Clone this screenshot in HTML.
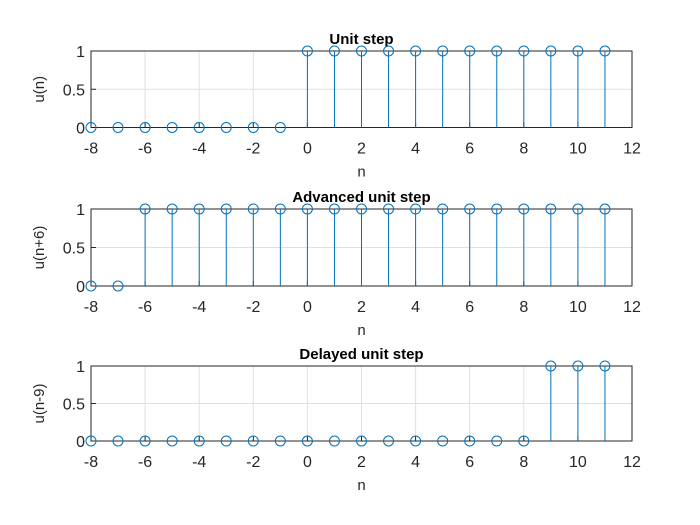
<!DOCTYPE html>
<html><head><meta charset="utf-8"><style>
body{margin:0;background:#fff;}
svg{display:block;font-family:"Liberation Sans",Arial,sans-serif;}
</style></head><body>
<svg id="fig" width="700" height="525"></svg>
<script>
const nValues=[-8,-7,-6,-5,-4,-3,-2,-1,0,1,2,3,4,5,6,7,8,9,10,11];
const unitStep=[0,0,0,0,0,0,0,0,1,1,1,1,1,1,1,1,1,1,1,1];
const advancedStep=[0,0,1,1,1,1,1,1,1,1,1,1,1,1,1,1,1,1,1,1];
const delayedStep=[0,0,0,0,0,0,0,0,0,0,0,0,0,0,0,0,0,1,1,1];
const xTicks=[-8,-6,-4,-2,0,2,4,6,8,10,12];
const yTicks=[0,0.5,1];
const yTickLabels=["0","0.5","1"];
const titles=["Unit step","Advanced unit step","Delayed unit step"];
const yLabels=["u(n)","u(n+6)","u(n-9)"];
const seriesList=[unitStep,advancedStep,delayedStep];
const NS="http://www.w3.org/2000/svg";
const svg=document.getElementById('fig');
const L=91,R=632,tops=[51,209,366],bots=[127.5,286,441];
function el(t,a,p){const e=document.createElementNS(NS,t);for(const k in a)e.setAttribute(k,a[k]);(p||svg).appendChild(e);return e;}
for(let s=0;s<3;s++){
  const T=tops[s],B=bots[s];
  const xs=v=>L+(v-(-8))/(12-(-8))*(R-L);
  const ys=v=>B-(v-0)/(1-0)*(B-T);
  const g=el('g',{});
  
  
  for(const t of xTicks){const l=el('line',{x1:xs(t),x2:xs(t),y1:T,y2:B,stroke:'#e0e0e0','stroke-width':1},g);}
  for(const t of yTicks){const l=el('line',{x1:L,x2:R,y1:ys(t),y2:ys(t),stroke:'#e0e0e0','stroke-width':1},g);}
  const box=el('rect',{x:L,y:T,width:R-L,height:B-T,fill:'none',stroke:'#262626','stroke-width':1},g);
  
  for(const t of xTicks){
    el('line',{x1:xs(t),x2:xs(t),y1:B,y2:B-5,stroke:'#262626'},g);
    const tx=el('text',{x:xs(t),y:B+26,'text-anchor':'middle','font-size':16,fill:'#262626'},g);tx.textContent=t;
    
  }
  yTicks.forEach((t,i)=>{
    el('line',{x1:L,x2:L+5,y1:ys(t),y2:ys(t),stroke:'#262626'},g);
    const tx=el('text',{x:L-6,y:ys(t)+6,'text-anchor':'end','font-size':16,fill:'#262626'},g);tx.textContent=yTickLabels[i];
    
  });
  const xl=el('text',{x:(L+R)/2,y:B+49,'text-anchor':'middle','font-size':15,fill:'#262626'},g);xl.textContent='n';
  
  const yl=el('text',{x:0,y:0,'text-anchor':'middle','font-size':15,fill:'#262626',transform:`translate(44,${(T+B)/2}) rotate(-90)`},g);yl.textContent=yLabels[s];
  
  const ti=el('text',{x:(L+R)/2,y:T-7,'text-anchor':'middle','font-size':15,'font-weight':'bold',fill:'#000'},g);ti.textContent=titles[s];
  
  const vals=seriesList[s];
  nValues.forEach((n,i)=>{
    const v=vals[i];
    if(v!==0){const st=el('line',{x1:xs(n),x2:xs(n),y1:ys(0),y2:ys(v),stroke:'#0072bd','stroke-width':1},g);
      }
    const c=el('circle',{cx:xs(n),cy:ys(v),r:5,fill:'none',stroke:'#0072bd','stroke-width':1},g);
    
  });
}
</script>
</body></html>
